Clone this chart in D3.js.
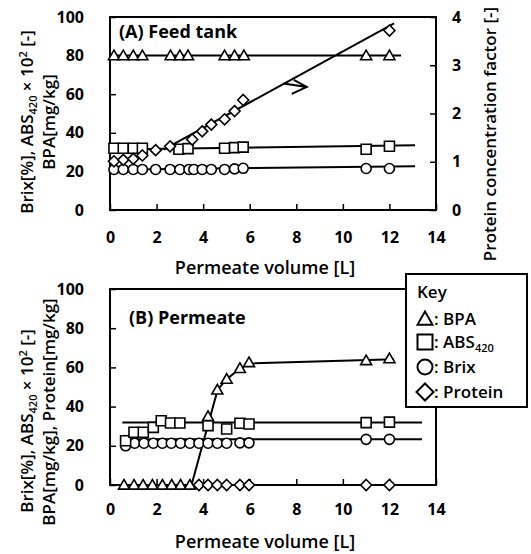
<!DOCTYPE html>
<html>
<head>
<meta charset="utf-8">
<script src="https://cdn.jsdelivr.net/npm/d3@7"></script>
<style>
  body { margin: 0; background: #fff; }
  text { font-family: "Open Sans", sans-serif; fill: #000; }
</style>
</head>
<body>
<div id="chart"></div>
<script>
// ---- data ----
var xTicks = [0, 2, 4, 6, 8, 10, 12, 14];
var yTicks = [0, 20, 40, 60, 80, 100];
var rTicks = [0, 1, 2, 3, 4];

// (A) Feed tank
var feedBpaVol = [0.17, 0.57, 1.0, 1.39, 2.6, 3.0, 3.35, 4.92, 5.35, 5.75, 11, 12];
var feedBpa = [80, 80, 80, 80, 80, 80, 80, 80, 80, 80, 80, 80];
var feedAbsVol = [0.17, 0.57, 1.0, 1.39, 2.96, 3.35, 4.92, 5.35, 5.72, 11, 12];
var feedAbs = [32, 32, 32, 32, 31.5, 31.8, 32, 32.3, 32.6, 31.5, 33];
var feedBrixVol = [0.17, 0.57, 1.0, 1.39, 1.96, 2.58, 3.0, 3.39, 3.6, 3.96, 4.35, 4.92, 5.35, 5.72, 11, 12];
var feedBrix = [21, 21, 21, 21, 21, 21, 21, 21, 21, 21, 21, 21, 21.3, 21.6, 21.5, 21.5];
var feedProtVol = [0.17, 0.57, 1.0, 1.39, 1.96, 2.58, 3.53, 3.96, 4.35, 4.92, 5.35, 5.72, 12];
var feedProt = [1.01, 1.04, 1.06, 1.13, 1.24, 1.32, 1.46, 1.63, 1.77, 1.88, 2.05, 2.28, 3.72];
// fitted lines (A)
var feedBpaFitVol = [0, 12.5], feedBpaFit = [80, 80];
var feedAbsFitVol = [0, 13.1], feedAbsFit = [31.3, 33.5];
var feedBrixFitVol = [0, 13.1], feedBrixFit = [20.9, 22.7];
var feedProtFitVol = [2.3, 12.2], feedProtFit = [1.25, 3.87];
var feedArrowVol = [7.45, 8.45], feedArrowFactor = [2.62, 2.55];

// (B) Permeate
var permBpaVol = [0.6, 1.03, 1.42, 1.82, 2.25, 2.65, 3.03, 3.43, 4.21, 4.61, 5.01, 5.58, 5.97, 11, 12];
var permBpa = [0, 0, 0, 0, 0, 0, 0, 0, 35, 48.5, 54, 59.5, 62.5, 63.5, 64.5];
var permAbsVol = [0.67, 1.03, 1.43, 1.86, 2.2, 2.6, 3.0, 4.21, 5.01, 5.58, 5.97, 11, 12];
var permAbs = [22.6, 26.9, 26.9, 29.4, 32.8, 31.6, 31.6, 30.3, 28.6, 31.5, 31.1, 31.8, 32.1];
var permBrixVol = [0.67, 1.06, 1.46, 1.86, 2.25, 2.63, 3.03, 3.43, 3.82, 4.21, 4.61, 5.01, 5.58, 5.97, 11, 12];
var permBrix = [20, 21.3, 21.3, 21.3, 21.3, 21.3, 21.3, 21.3, 21.3, 21.3, 21.3, 21.3, 21.5, 21.5, 23.3, 23.3];
var permProtVol = [3.82, 4.21, 4.61, 5.01, 5.58, 5.97, 11, 12];
var permProt = [0, 0, 0, 0, 0, 0, 0, 0];
// fitted lines (B)
var permBpaFitVol = [0.35, 3.5, 4.62, 5.0, 5.6, 6.0, 12.2];
var permBpaFit = [0, 0, 48.5, 54, 59.5, 62, 64.2];
var permAbsFitVol = [0.53, 13.4], permAbsFit = [31.9, 31.9];
var permBrixFitVol = [0.5, 13.4], permBrixFit = [23.3, 23.3];
var permProtFitVol = [0.3, 12.3], permProtFit = [0, 0];

var legendKeys = ["tri", "sq", "circ", "dia"];

// ---- drawing ----
var width = 531, height = 554;
var svg = d3.select("#chart").append("svg")
    .attr("width", width)
    .attr("height", height);

var x = d3.scaleLinear().domain([0, 14]).range([110, 436]);
var yA = d3.scaleLinear().domain([0, 100]).range([210, 17]);
var rA = d3.scaleLinear().domain([0, 4]).range([210, 17]);
var yB = d3.scaleLinear().domain([0, 100]).range([485, 289]);

function shapePath(shape, s) {
  var h = s / 2;
  if (shape == "tri") return "M0," + (-h) + "L" + h + "," + (h * 0.75) + "L" + (-h) + "," + (h * 0.75) + "Z";
  if (shape == "sq") return "M" + (-h) + "," + (-h) + "H" + h + "V" + h + "H" + (-h) + "Z";
  if (shape == "dia") return "M0," + (-h) + "L" + h + ",0L0," + h + "L" + (-h) + ",0Z";
  return "M" + h + ",0A" + h + "," + h + " 0 1,1 " + (-h) + ",0A" + h + "," + h + " 0 1,1 " + h + ",0Z";
}

function drawFit(g, xs, ys, yscale) {
  var pts = xs.map(function(v, i) { return [v, ys[i]]; });
  g.append("path")
    .attr("d", d3.line().x(function(d) { return x(d[0]); }).y(function(d) { return yscale(d[1]); })(pts))
    .attr("fill", "none")
    .attr("stroke", "#000")
    .attr("stroke-width", 2);
}

function drawPoints(g, xs, ys, yscale, shape, size) {
  var pts = xs.map(function(v, i) { return [v, ys[i]]; });
  g.selectAll(null).data(pts).enter().append("path")
    .attr("transform", function(d) { return "translate(" + x(d[0]) + "," + yscale(d[1]) + ")"; })
    .attr("d", shapePath(shape, size))
    .attr("fill", "#fff")
    .attr("stroke", "#000")
    .attr("stroke-width", 1.6);
}

function styleAxis(a) {
  a.select(".domain").remove();
  a.selectAll("line").attr("stroke-width", 1.5);
  a.selectAll("text").style("font-size", "16px").style("font-weight", 700).attr("fill", "#000");
}

function axes(g, yscale, xPad) {
  var y0 = yscale.range()[0];
  g.append("g")
    .attr("transform", "translate(0," + y0 + ")")
    .call(d3.axisBottom(x).tickValues(xTicks).tickSizeInner(-6).tickSizeOuter(0).tickPadding(xPad))
    .call(styleAxis);
  g.append("g")
    .attr("transform", "translate(" + x(0) + ",0)")
    .call(d3.axisLeft(yscale).tickValues(yTicks).tickSizeInner(-6).tickSizeOuter(0).tickPadding(26))
    .call(styleAxis);
  g.append("rect")
    .attr("x", x(0)).attr("y", yscale(100))
    .attr("width", x(14) - x(0)).attr("height", y0 - yscale(100))
    .attr("fill", "none").attr("stroke", "#000").attr("stroke-width", 2);
}

// y label with sub/superscripts
function yLabel(g, cx, cy, parts) {
  var t = g.append("text")
    .attr("transform", "translate(" + cx + "," + cy + ") rotate(-90)")
    .attr("text-anchor", "middle")
    .style("font-size", "17px")
    .style("font-weight", 600);
  parts.forEach(function(p) {
    var ts = t.append("tspan").text(p.t);
    if (p.sub) ts.attr("dy", 4).style("font-size", "11px");
    if (p.sup) ts.attr("dy", -6).style("font-size", "11px");
    if (p.back) ts.attr("dy", p.back);
  });
}

// ---- panel A ----
var gA = svg.append("g");
axes(gA, yA, 22);

gA.append("g")
  .attr("transform", "translate(" + x(14) + ",0)")
  .call(d3.axisRight(rA).tickValues(rTicks).tickFormat(d3.format("d"))
    .tickSizeInner(-6).tickSizeOuter(0).tickPadding(16))
  .call(styleAxis);

drawFit(gA, feedBpaFitVol, feedBpaFit, yA);
drawFit(gA, feedAbsFitVol, feedAbsFit, yA);
drawFit(gA, feedBrixFitVol, feedBrixFit, yA);
drawFit(gA, feedProtFitVol, feedProtFit, rA);

drawPoints(gA, feedBrixVol, feedBrix, yA, "circ", 10);
drawPoints(gA, feedAbsVol, feedAbs, yA, "sq", 10);
drawPoints(gA, feedProtVol, feedProt, rA, "dia", 11);
drawPoints(gA, feedBpaVol, feedBpa, yA, "tri", 11);

// arrow pointing to the right axis
var ax0 = x(feedArrowVol[0]), ay0 = rA(feedArrowFactor[0]);
var ax1 = x(feedArrowVol[1]), ay1 = rA(feedArrowFactor[1]);
gA.append("path")
  .attr("d", "M" + ax0 + "," + ay0 + "L" + ax1 + "," + ay1 +
        "M" + (ax1 - 13) + "," + (ay1 - 7) + "L" + ax1 + "," + ay1 + "L" + (ax1 - 15) + "," + (ay1 + 7))
  .attr("fill", "none").attr("stroke", "#000").attr("stroke-width", 2);

gA.append("text").attr("x", 119).attr("y", 38)
  .style("font-size", "18px").style("font-weight", 700)
  .text("(A) Feed tank");

gA.append("text").attr("x", 265).attr("y", 274)
  .attr("text-anchor", "middle")
  .style("font-size", "18px").style("font-weight", 600)
  .text("Permeate volume [L]");

yLabel(gA, 33, 122, [{t: "Brix[%],  ABS"}, {t: "420", sub: true}, {t: " × 10", back: -4}, {t: "2", sup: true}, {t: " [-]", back: 6}]);
yLabel(gA, 55, 122, [{t: "BPA[mg/kg]"}]);

gA.append("text")
  .attr("transform", "translate(496,134) rotate(-90)")
  .attr("text-anchor", "middle")
  .style("font-size", "17px").style("font-weight", 600)
  .text("Protein concentration factor [-]");

// ---- panel B ----
var gB = svg.append("g");
axes(gB, yB, 19);

drawFit(gB, permAbsFitVol, permAbsFit, yB);
drawFit(gB, permBrixFitVol, permBrixFit, yB);
drawFit(gB, permProtFitVol, permProtFit, yB);
drawFit(gB, permBpaFitVol, permBpaFit, yB);

drawPoints(gB, permBrixVol, permBrix, yB, "circ", 10);
drawPoints(gB, permAbsVol, permAbs, yB, "sq", 10);
drawPoints(gB, permProtVol, permProt, yB, "dia", 11);
drawPoints(gB, permBpaVol, permBpa, yB, "tri", 11);

gB.append("text").attr("x", 129).attr("y", 324)
  .style("font-size", "18px").style("font-weight", 700)
  .text("(B) Permeate");

gB.append("text").attr("x", 265).attr("y", 548)
  .attr("text-anchor", "middle")
  .style("font-size", "18px").style("font-weight", 600)
  .text("Permeate volume [L]");

yLabel(gB, 33, 421, [{t: "Brix[%],  ABS"}, {t: "420", sub: true}, {t: " × 10", back: -4}, {t: "2", sup: true}, {t: " [-]", back: 6}]);
yLabel(gB, 55, 412, [{t: "BPA[mg/kg], Protein[mg/kg]"}]);

// ---- legend ----
var lg = svg.append("g");
lg.append("rect").attr("x", 406).attr("y", 274).attr("width", 121).attr("height", 133)
  .attr("fill", "#fff").attr("stroke", "#000").attr("stroke-width", 2);
lg.append("text").attr("x", 417).attr("y", 298)
  .style("font-size", "17px").style("font-weight", 600).text("Key");
var legendY = [319, 342, 367, 392];
legendKeys.forEach(function(k, i) {
  lg.append("path")
    .attr("transform", "translate(425," + legendY[i] + ")")
    .attr("d", shapePath(k, k == "dia" ? 17 : 15))
    .attr("fill", "#fff").attr("stroke", "#000").attr("stroke-width", 2);
});
var lt = [
  lg.append("text").attr("x", 434).attr("y", 325).text(": BPA"),
  lg.append("text").attr("x", 434).attr("y", 348).text(":  ABS"),
  lg.append("text").attr("x", 434).attr("y", 373).text(":  Brix"),
  lg.append("text").attr("x", 434).attr("y", 398).text(": Protein")
];
lt[1].append("tspan").attr("dy", 4).style("font-size", "11px").text("420");
lt.forEach(function(t) { t.style("font-size", "17px").style("font-weight", 600); });
</script>
</body>
</html>
